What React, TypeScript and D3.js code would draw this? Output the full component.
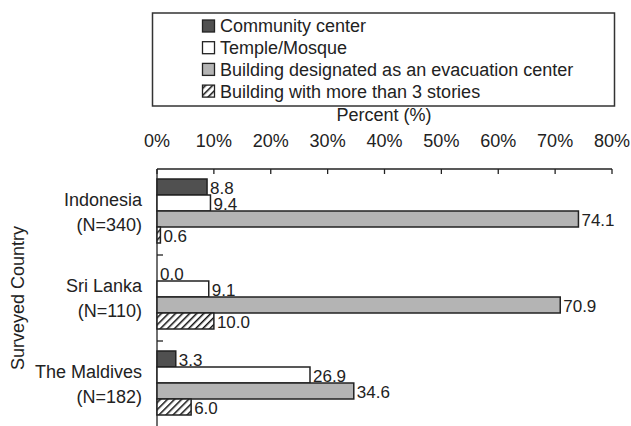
import React, { useRef, useEffect } from 'react';
import * as d3 from 'd3';

// data
const countries = ['Indonesia', 'Sri Lanka', 'The Maldives'];
const sampleSizes = ['(N=340)', '(N=110)', '(N=182)'];
const seriesNames = [
  'Community center',
  'Temple/Mosque',
  'Building designated as an evacuation center',
  'Building with more than 3 stories',
];
const communityCenter = [8.8, 0.0, 3.3];
const templeMosque = [9.4, 9.1, 26.9];
const evacuationCenter = [74.1, 70.9, 34.6];
const moreThan3Stories = [0.6, 10.0, 6.0];
const xTicks = [0, 10, 20, 30, 40, 50, 60, 70, 80];

const fills = ['#505050', '#ffffff', '#b4b4b4', 'url(#hatch)'];
const FONT = '"Liberation Sans", Arial, sans-serif';
const FS = 18;

const App = () => {
  const ref = useRef(null);

  useEffect(() => {
    const width = 631;
    const height = 426;
    const svg = d3.select(ref.current)
      .attr('width', width)
      .attr('height', height)
      .style('position', 'absolute')
      .style('left', 0)
      .style('top', 0)
      .style('font-family', FONT);

    svg.selectAll('*').remove();

    const defs = svg.append('defs');
    const pat = defs.append('pattern')
      .attr('id', 'hatch')
      .attr('patternUnits', 'userSpaceOnUse')
      .attr('width', 5)
      .attr('height', 5)
      .attr('patternTransform', 'rotate(45)');
    pat.append('rect').attr('width', 5).attr('height', 5).attr('fill', '#fff');
    pat.append('line')
      .attr('x1', 0).attr('y1', 0).attr('x2', 0).attr('y2', 5)
      .attr('stroke', '#111').attr('stroke-width', 3);

    const allSeries = [communityCenter, templeMosque, evacuationCenter, moreThan3Stories];

    const x = d3.scaleLinear().domain([0, 80]).range([157, 612]);
    const y = d3.scaleBand().domain(countries).range([169, 427]).padding(0);
    const inner = d3.scaleBand()
      .domain(d3.range(seriesNames.length))
      .range([10, 10 + 16 * 4])
      .padding(0);

    // legend
    const lg = svg.append('g');
    lg.append('rect')
      .attr('x', 152.5).attr('y', 13)
      .attr('width', 462).attr('height', 93)
      .attr('fill', '#fff').attr('stroke', '#333').attr('stroke-width', 1.5);
    seriesNames.forEach((name, i) => {
      const cy = 26 + i * 21.7;
      lg.append('rect')
        .attr('x', 202.5).attr('y', cy - 6)
        .attr('width', 12).attr('height', 12)
        .attr('fill', fills[i]).attr('stroke', '#222').attr('stroke-width', 1.3);
      lg.append('text')
        .attr('x', 220).attr('y', cy)
        .attr('dy', '0.36em')
        .attr('font-size', FS)
        .attr('fill', '#222')
        .text(name);
    });

    // x axis title and ticks (top)
    svg.append('text')
      .attr('x', 384).attr('y', 115)
      .attr('dy', '0.36em')
      .attr('text-anchor', 'middle')
      .attr('font-size', FS)
      .attr('fill', '#222')
      .text('Percent (%)');

    const ax = svg.append('g');
    ax.append('line')
      .attr('x1', x(0)).attr('x2', x(80))
      .attr('y1', 169).attr('y2', 169)
      .attr('stroke', '#222').attr('stroke-width', 1.3);
    xTicks.forEach(t => {
      ax.append('line')
        .attr('x1', x(t)).attr('x2', x(t))
        .attr('y1', 169).attr('y2', 174)
        .attr('stroke', '#222').attr('stroke-width', 1.3);
      ax.append('text')
        .attr('x', x(t)).attr('y', 141)
        .attr('dy', '0.36em')
        .attr('text-anchor', 'middle')
        .attr('font-size', FS)
        .attr('fill', '#222')
        .text(`${t}%`);
    });

    // y axis
    const ay = svg.append('g');
    ay.append('line')
      .attr('x1', x(0)).attr('x2', x(0))
      .attr('y1', 169).attr('y2', 427)
      .attr('stroke', '#222').attr('stroke-width', 1.3);
    countries.forEach((c, i) => {
      const y0 = y(c);
      if (i > 0) {
        ay.append('line')
          .attr('x1', x(0)).attr('x2', x(0) + 6)
          .attr('y1', y0).attr('y2', y0)
          .attr('stroke', '#222').attr('stroke-width', 1.3);
      }
      const cy = y0 + y.bandwidth() / 2;
      ay.append('text')
        .attr('x', 142).attr('y', cy - 12)
        .attr('dy', '0.36em')
        .attr('text-anchor', 'end')
        .attr('font-size', FS)
        .attr('fill', '#222')
        .text(c);
      ay.append('text')
        .attr('x', 142).attr('y', cy + 13)
        .attr('dy', '0.36em')
        .attr('text-anchor', 'end')
        .attr('font-size', FS)
        .attr('fill', '#222')
        .text(sampleSizes[i]);
    });

    svg.append('text')
      .attr('transform', 'translate(18,298) rotate(-90)')
      .attr('dy', '0.36em')
      .attr('text-anchor', 'middle')
      .attr('font-size', FS)
      .attr('fill', '#222')
      .text('Surveyed Country');

    // bars
    const bars = svg.append('g');
    countries.forEach((c, ci) => {
      allSeries.forEach((vals, si) => {
        const v = vals[ci];
        const by = y(c) + inner(si);
        if (v > 0) {
          bars.append('rect')
            .attr('x', x(0))
            .attr('y', by)
            .attr('width', x(v) - x(0))
            .attr('height', inner.bandwidth())
            .attr('fill', fills[si])
            .attr('stroke', '#222')
            .attr('stroke-width', 1.5);
        }
        bars.append('text')
          .attr('x', x(v) + 3)
          .attr('y', by + inner.bandwidth() / 2 + 1)
          .attr('dy', '0.36em')
          .attr('font-size', 17)
          .attr('fill', '#222')
          .text(v.toFixed(1));
      });
    });
  }, []);

  return <svg ref={ref}></svg>;
};

export default App;
